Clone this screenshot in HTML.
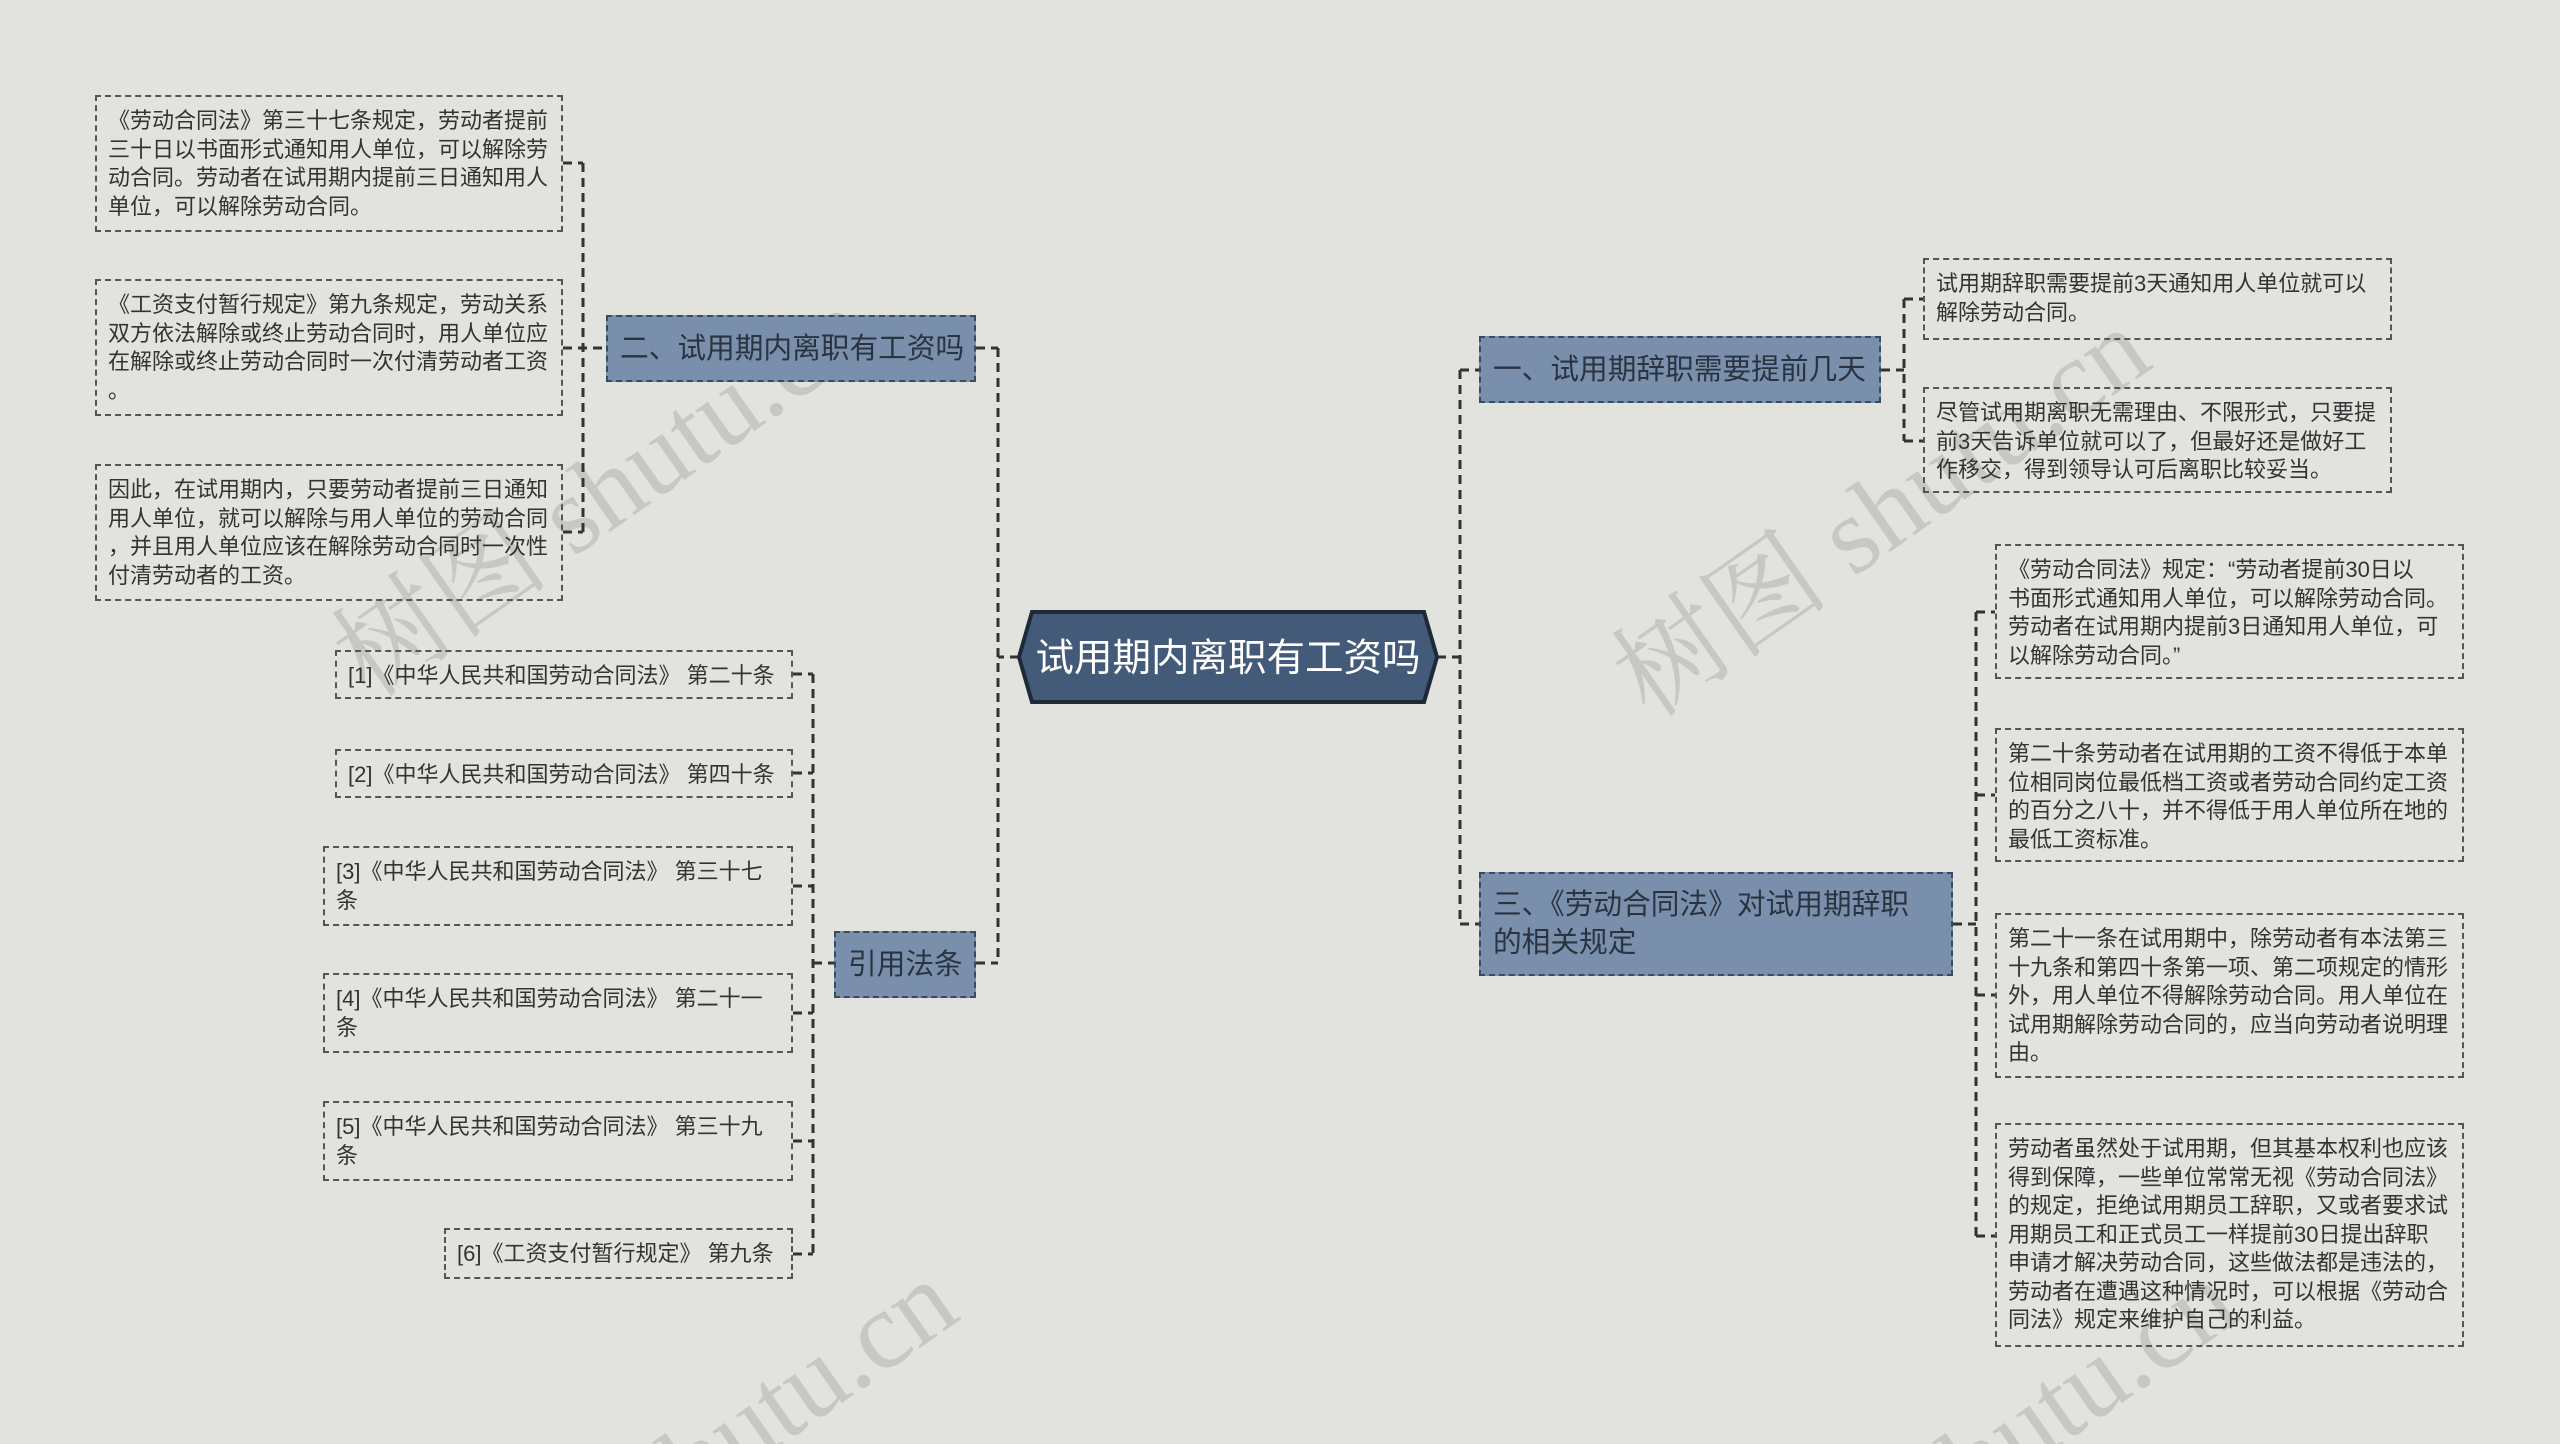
<!DOCTYPE html>
<html style="margin:0;overflow:hidden;width:2560px;height:1444px"><head><meta charset="utf-8"><style>
body{margin:0;width:2560px;height:1444px;overflow:hidden;background:#e2e2de;font-family:"Liberation Sans","Noto Sans CJK SC",sans-serif;}
#c{position:relative;width:2560px;height:1444px;overflow:hidden;}
.lf{position:absolute;box-sizing:border-box;border:2px dashed #555;color:#333;font-size:22px;line-height:28.5px;padding:10px 11px;white-space:nowrap;}
.nd{position:absolute;box-sizing:border-box;border:2px dashed #3a4a60;background:#7a8fab;color:#2a3340;font-size:28.7px;line-height:38px;padding:0 12px;white-space:nowrap;display:flex;align-items:center;}
</style></head><body><div id="c">
<svg width="2560" height="1444" style="position:absolute;left:0;top:0">
<g fill="rgba(150,150,150,0.35)" font-size="110" font-family="Liberation Serif, Noto Serif CJK SC, serif">
<text transform="translate(370,700) rotate(-35)">树图 shutu.cn</text>
<text transform="translate(1650,720) rotate(-35)">树图 shutu.cn</text>
<text transform="translate(660,1530) rotate(-35)">shutu.cn</text>
<text transform="translate(1940,1530) rotate(-35)">shutu.cn</text>
</g>
<g stroke="#333" stroke-width="3" fill="none" stroke-dasharray="9,6">
<path d="M1019 657 H998 M998 348 V963 M976 348 H998 M976 963 H998"/>
<path d="M583 163 V532 M563 163 H583 M563 348 H606 M563 532 H583"/>
<path d="M813 674 V1254 M793 674 H813 M793 773 H813 M793 886 H813 M793 1013 H813 M793 1141 H813 M793 1254 H813 M813 963 H834"/>
<path d="M1437 657 H1460 M1460 370 V924 M1460 370 H1479 M1460 924 H1479"/>
<path d="M1881 370 H1904 M1904 299 V441 M1904 299 H1923 M1904 441 H1923"/>
<path d="M1953 924 H1976 M1976 612 V1236 M1976 612 H1995 M1976 795 H1995 M1976 995 H1995 M1976 1236 H1995"/>
</g>
<polygon points="1032,612 1424,612 1437,657 1424,702 1032,702 1019,657" fill="#435a78" stroke="#1f2a38" stroke-width="4"/>
<text x="1228" y="671" text-anchor="middle" fill="#fff" font-size="38.5" font-family="Liberation Sans, Noto Sans CJK SC, sans-serif">试用期内离职有工资吗</text>
</svg>

<div class="nd" style="left:606px;top:315px;width:370px;height:67px">二、试用期内离职有工资吗</div>
<div class="nd" style="left:834px;top:931px;width:142px;height:67px">引用法条</div>
<div class="nd" style="left:1479px;top:336px;width:402px;height:67px">一、试用期辞职需要提前几天</div>
<div class="nd" style="left:1479px;top:872px;width:474px;height:104px">三、《劳动合同法》对试用期辞职<br>的相关规定</div>

<div class="lf" style="left:95px;top:95px;width:468px;height:137px">《劳动合同法》第三十七条规定，劳动者提前<br>三十日以书面形式通知用人单位，可以解除劳<br>动合同。劳动者在试用期内提前三日通知用人<br>单位，可以解除劳动合同。</div>
<div class="lf" style="left:95px;top:279px;width:468px;height:137px">《工资支付暂行规定》第九条规定，劳动关系<br>双方依法解除或终止劳动合同时，用人单位应<br>在解除或终止劳动合同时一次付清劳动者工资<br>。</div>
<div class="lf" style="left:95px;top:464px;width:468px;height:137px">因此，在试用期内，只要劳动者提前三日通知<br>用人单位，就可以解除与用人单位的劳动合同<br>，并且用人单位应该在解除劳动合同时一次性<br>付清劳动者的工资。</div>

<div class="lf" style="left:335px;top:650px;width:458px;height:49px">[1]《中华人民共和国劳动合同法》 第二十条</div>
<div class="lf" style="left:335px;top:749px;width:458px;height:49px">[2]《中华人民共和国劳动合同法》 第四十条</div>
<div class="lf" style="left:323px;top:846px;width:470px;height:80px">[3]《中华人民共和国劳动合同法》 第三十七<br>条</div>
<div class="lf" style="left:323px;top:973px;width:470px;height:80px">[4]《中华人民共和国劳动合同法》 第二十一<br>条</div>
<div class="lf" style="left:323px;top:1101px;width:470px;height:80px">[5]《中华人民共和国劳动合同法》 第三十九<br>条</div>
<div class="lf" style="left:444px;top:1228px;width:349px;height:51px">[6]《工资支付暂行规定》 第九条</div>

<div class="lf" style="left:1923px;top:258px;width:469px;height:82px">试用期辞职需要提前3天通知用人单位就可以<br>解除劳动合同。</div>
<div class="lf" style="left:1923px;top:387px;width:469px;height:106px">尽管试用期离职无需理由、不限形式，只要提<br>前3天告诉单位就可以了，但最好还是做好工<br>作移交，得到领导认可后离职比较妥当。</div>

<div class="lf" style="left:1995px;top:544px;width:469px;height:135px">《劳动合同法》规定：“劳动者提前30日以<br>书面形式通知用人单位，可以解除劳动合同。<br>劳动者在试用期内提前3日通知用人单位，可<br>以解除劳动合同。”</div>
<div class="lf" style="left:1995px;top:728px;width:469px;height:134px">第二十条劳动者在试用期的工资不得低于本单<br>位相同岗位最低档工资或者劳动合同约定工资<br>的百分之八十，并不得低于用人单位所在地的<br>最低工资标准。</div>
<div class="lf" style="left:1995px;top:913px;width:469px;height:165px">第二十一条在试用期中，除劳动者有本法第三<br>十九条和第四十条第一项、第二项规定的情形<br>外，用人单位不得解除劳动合同。用人单位在<br>试用期解除劳动合同的，应当向劳动者说明理<br>由。</div>
<div class="lf" style="left:1995px;top:1123px;width:469px;height:224px">劳动者虽然处于试用期，但其基本权利也应该<br>得到保障，一些单位常常无视《劳动合同法》<br>的规定，拒绝试用期员工辞职，又或者要求试<br>用期员工和正式员工一样提前30日提出辞职<br>申请才解决劳动合同，这些做法都是违法的，<br>劳动者在遭遇这种情况时，可以根据《劳动合<br>同法》规定来维护自己的利益。</div>
</div></body></html>
